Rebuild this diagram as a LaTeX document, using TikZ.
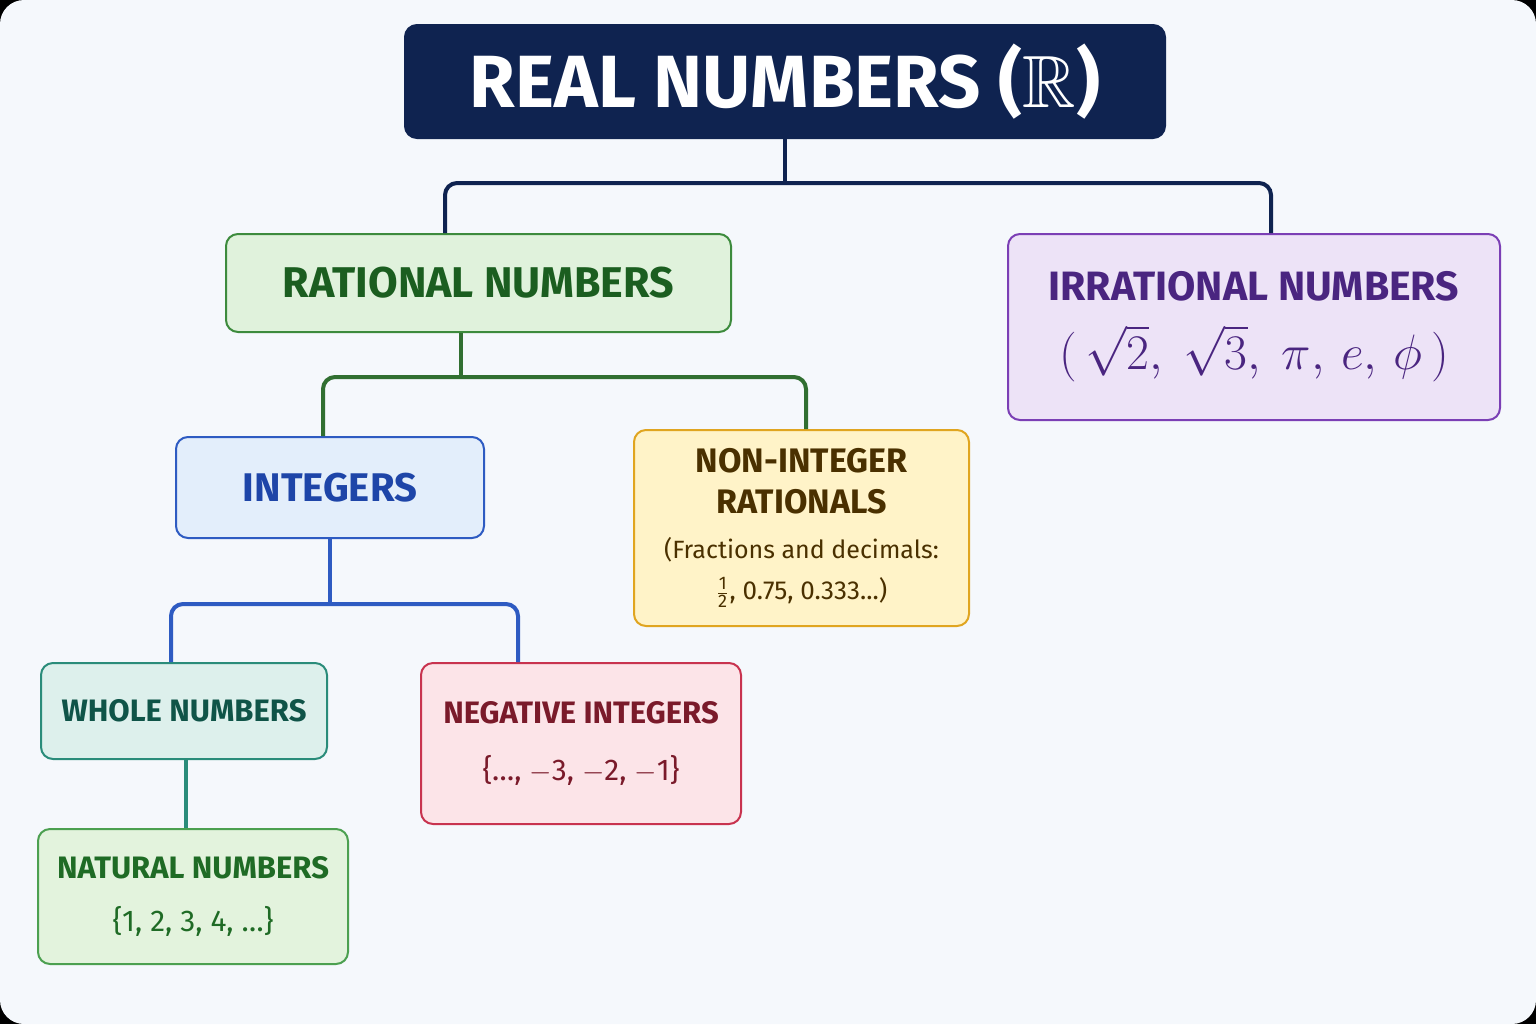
\documentclass[tikz,border=0pt]{standalone}
\usepackage{amsmath}
\usepackage{amssymb}
\usepackage{fontspec}
\setmainfont{Fira Sans}
\usetikzlibrary{calc,positioning}
\newcommand{\fsz}[1]{\fontsize{#1}{1.2\dimexpr #1pt\relax}\selectfont}
\definecolor{navy}{HTML}{0F2350}
\definecolor{bgc}{HTML}{F5F8FC}
\definecolor{ratfill}{HTML}{E0F2DC}\definecolor{ratline}{HTML}{3D8B3D}\definecolor{rattext}{HTML}{1B5E20}
\definecolor{irrfill}{HTML}{EDE3F7}\definecolor{irrline}{HTML}{7B3FB5}\definecolor{irrtext}{HTML}{4A2580}
\definecolor{intfill}{HTML}{E3EEFB}\definecolor{intline}{HTML}{2E5BC2}\definecolor{inttext}{HTML}{1E45A8}
\definecolor{nonfill}{HTML}{FFF3C8}\definecolor{nonline}{HTML}{E0A520}\definecolor{nontext}{HTML}{4A3000}
\definecolor{whofill}{HTML}{DDF0EC}\definecolor{wholine}{HTML}{2A8C7A}\definecolor{whotext}{HTML}{0F5448}
\definecolor{negfill}{HTML}{FCE4E8}\definecolor{negline}{HTML}{C8334F}\definecolor{negtext}{HTML}{7A1A2A}
\definecolor{natfill}{HTML}{E3F3DD}\definecolor{natline}{HTML}{4CA050}\definecolor{nattext}{HTML}{1F6B25}
\tikzset{
	box/.style={draw, line width=1pt, rounded corners=6pt, align=center, inner sep=0pt},
	link/.style={line width=2pt, rounded corners=6pt},
}
\begin{document}
\begin{tikzpicture}[x=0.5pt,y=-0.5pt]
	\fill[black] (0,0) rectangle (1536,1024);
	\fill[bgc, rounded corners=12pt] (0,0) rectangle (1536,1024);

	\node[box, fill=navy, draw=navy, text=white, minimum width=380pt, minimum height=56.5pt, font=\fsz{37}\bfseries] (title) at (785,81.5) {REAL NUMBERS ($\mathbb{R}$)};
	\node[box, fill=ratfill, draw=ratline, text=rattext, minimum width=252.5pt, minimum height=49pt, font=\fsz{21.5}\bfseries] (rational) at (478.5,283) {RATIONAL NUMBERS};
	\node[box, fill=irrfill, draw=irrline, text=irrtext, minimum width=246pt, minimum height=93pt, font=\fsz{20.5}\bfseries] (irrational) at (1254,327) {IRRATIONAL NUMBERS\\[10pt]\mdseries\fsz{23}$(\,\sqrt{2},\ \sqrt{3},\ \pi,\, e,\, \phi\,)$};
	\node[box, fill=intfill, draw=intline, text=inttext, minimum width=154pt, minimum height=50.5pt, font=\fsz{20}\bfseries] (integers) at (330,487.5) {INTEGERS};
	\node[box, fill=nonfill, draw=nonline, text=nontext, minimum width=167.5pt, minimum height=98pt, font=\fsz{17}\bfseries] (nonint) at (801.5,528) {NON-INTEGER\\RATIONALS\\[2pt]\mdseries\fsz{12.5}(Fractions and decimals:\\[0pt]\mdseries\fsz{13}$\genfrac{}{}{0.6pt}{}{\text{1}}{\text{2}}$, 0.75, 0.333...)};
	\node[box, fill=whofill, draw=wholine, text=whotext, minimum width=143pt, minimum height=48pt, font=\fsz{15.5}\bfseries] (whole) at (184,711) {WHOLE NUMBERS};
	\node[box, fill=negfill, draw=negline, text=negtext, minimum width=160pt, minimum height=80.5pt, font=\fsz{15.5}\bfseries] (negative) at (581,743.5) {NEGATIVE INTEGERS\\[10pt]\mdseries\fsz{15}\{…, $-$3, $-$2, $-$1\}};
	\node[box, fill=natfill, draw=natline, text=nattext, minimum width=155pt, minimum height=67.5pt, font=\fsz{15.5}\bfseries] (natural) at (193,896.5) {NATURAL NUMBERS\\[8pt]\mdseries\fsz{15}\{1, 2, 3, 4, …\}};

	% tree links
	\draw[link, navy] (title.south) -- ++(0,44);
	\draw[link, navy] ([xshift=-16.75pt]rational.north) |- ($(title.south)+(0,44)$) -| ([xshift=8.5pt]irrational.north);
	\draw[link, ratline!80!black] ([xshift=-8.75pt]rational.south) -- ++(0,44);
	\draw[link, ratline!80!black] ([xshift=-3.5pt]integers.north) |- ($([xshift=-8.75pt]rational.south)+(0,44)$) -| ([xshift=2.25pt]nonint.north);
	\draw[link, intline] (integers.south) -- ++(0,65);
	\draw[link, intline] ([xshift=-6.5pt]whole.north) |- ($(integers.south)+(0,65)$) -| ([xshift=-31.5pt]negative.north);
	\draw[link, wholine] ([xshift=1pt]whole.south) -- ([xshift=-3.5pt]natural.north);
\end{tikzpicture}
\end{document}
